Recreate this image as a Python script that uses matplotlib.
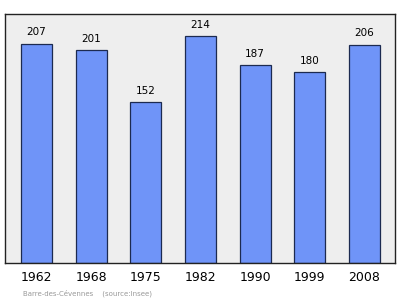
import numpy as np
import matplotlib.pyplot as plt

years = ['1962', '1968', '1975', '1982', '1990', '1999', '2008']
population = [207, 201, 152, 214, 187, 180, 206]

fig = plt.figure(figsize=(4.0, 2.99), dpi=100)
ax = fig.add_axes([0.0125, 0.1204, 0.975, 0.8326])
ax.set_facecolor('#eeeeee')

x = np.arange(len(years))
ax.bar(x, population, width=0.57, color='#6f94f8', edgecolor='#1c2a50', linewidth=0.9)
for xi, v in zip(x, population):
    ax.text(xi, v + 6, str(v), ha='center', va='bottom', fontsize=7.5, color='black')

ax.set_xlim(-0.576, 6.558)
ax.set_ylim(0, 235)
ax.set_yticks([])
ax.set_xticks(x)
ax.set_xticklabels(years, fontsize=9)
ax.tick_params(axis='x', length=0, pad=6)
for s in ax.spines.values():
    s.set_linewidth(1.0)
    s.set_color('#222222')

fig.text(0.058, 0.012, 'Barre-des-Cévennes    (source:Insee)', fontsize=5.0, color='#999999')

plt.savefig('out.png')
